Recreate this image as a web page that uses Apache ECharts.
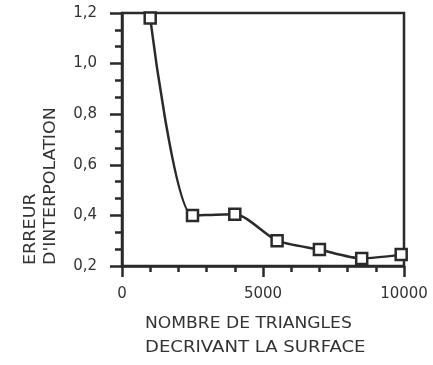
<!DOCTYPE html>
<html><head><meta charset="utf-8">
<script src="https://cdn.jsdelivr.net/npm/echarts@6/dist/echarts.min.js"></script>
<style>html,body{margin:0;padding:0;background:#fff}#c{width:433px;height:365px}</style>
</head><body><div id="c"></div>
<script>
const triangles = [1000, 2500, 4000, 5500, 7000, 8500, 9900];
const erreur = [1.18, 0.40, 0.405, 0.30, 0.265, 0.23, 0.245];
const xTitle = ['NOMBRE DE TRIANGLES', 'DECRIVANT LA SURFACE'];
const yTitle = ['ERREUR', "D'INTERPOLATION"];

const FONT = 'DejaVu Sans';
const INK = '#2a2a2a';
const TFONT = '16px "DejaVu Sans"';
const chart = echarts.init(document.getElementById('c'));
chart.setOption({
  animation: false,
  grid: { left: 122, right: 29, top: 13, bottom: 99, show: true, borderColor: INK, borderWidth: 2.5, backgroundColor: 'transparent' },
  xAxis: {
    type: 'value', min: 0, max: 10000, interval: 5000,
    axisLine: { lineStyle: { color: INK, width: 2.5 } },
    axisTick: { length: 11, lineStyle: { color: INK, width: 2.5 } },
    minorTick: { show: true, splitNumber: 5, length: 6, lineStyle: { color: INK, width: 2.5 } },
    splitLine: { show: false },
    axisLabel: { margin: 21, fontFamily: FONT, fontSize: 15, color: '#333', formatter: v => String(v) }
  },
  yAxis: {
    type: 'value', min: 0.2, max: 1.2, interval: 0.2,
    axisLine: { lineStyle: { color: INK, width: 2.5 } },
    axisTick: { length: 12, lineStyle: { color: INK, width: 2.5 } },
    minorTick: { show: true, splitNumber: 3, length: 7, lineStyle: { color: INK, width: 2.5 } },
    splitLine: { show: false },
    axisLabel: { margin: 25, fontFamily: FONT, fontSize: 15, color: '#333',
      formatter: v => v.toFixed(1).replace('.', ',') }
  },
  series: [{
    type: 'line', smooth: 0.25,
    data: triangles.map((x, i) => [x, erreur[i]]),
    lineStyle: { color: INK, width: 2.5 },
    symbol: 'rect', symbolSize: 11,
    itemStyle: { color: '#fff', borderColor: INK, borderWidth: 2.5 }
  }],
  graphic: [
    { type: 'text', x: 145, y: 324, scaleX: 1.07, style: { text: xTitle[0], font: TFONT, fill: '#333', align: 'left', verticalAlign: 'middle' } },
    { type: 'text', x: 145, y: 348, scaleX: 1.13, style: { text: xTitle[1], font: TFONT, fill: '#333', align: 'left', verticalAlign: 'middle' } },
    { type: 'text', x: 31, y: 265, rotation: Math.PI / 2, scaleX: 1.1, style: { text: yTitle[0], font: TFONT, fill: '#333', align: 'left', verticalAlign: 'middle' } },
    { type: 'text', x: 51, y: 265, rotation: Math.PI / 2, scaleX: 1.09, style: { text: yTitle[1], font: TFONT, fill: '#333', align: 'left', verticalAlign: 'middle' } }
  ]
});
</script></body></html>
